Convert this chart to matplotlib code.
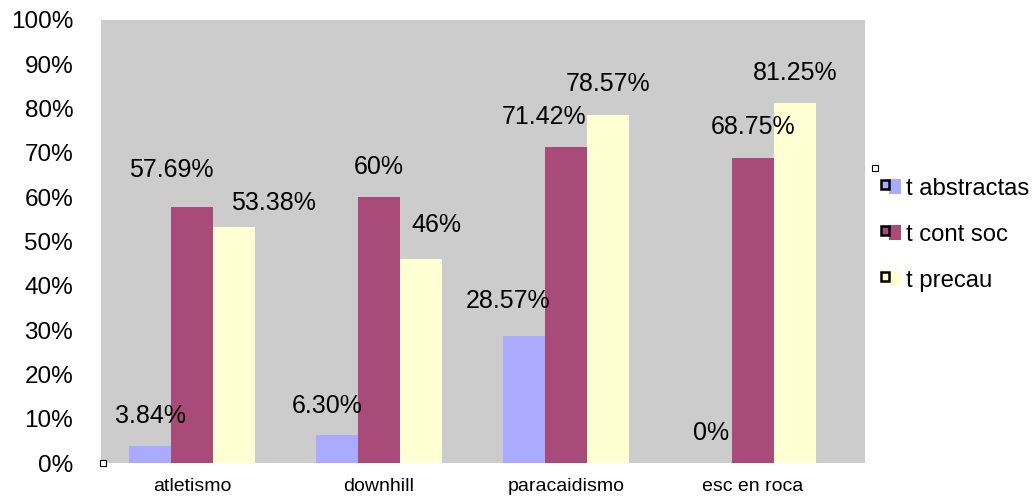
import numpy as np
import matplotlib
matplotlib.use('Agg')
import matplotlib.pyplot as plt
from matplotlib.patches import Patch, Rectangle
from matplotlib.legend_handler import HandlerBase

plt.rcParams['font.family'] = ['Liberation Sans', 'DejaVu Sans']

# data
categories = ['atletismo', 'downhill', 'paracaidismo', 'esc en roca']
series_names = ['t abstractas', 't cont soc', 't precau']
t_abstractas = [3.84, 6.30, 28.57, 0.0]
t_cont_soc = [57.69, 60.0, 71.42, 68.75]
t_precau = [53.38, 46.0, 78.57, 81.25]
labels_abstractas = ['3.84%', '6.30%', '28.57%', '0%']
labels_cont_soc = ['57.69%', '60%', '71.42%', '68.75%']
labels_precau = ['53.38%', '46%', '78.57%', '81.25%']
y_ticks = [0, 10, 20, 30, 40, 50, 60, 70, 80, 90, 100]

colors = ['#AAAAFF', '#A84B78', '#FFFFD4']
# nudges of the value labels from the bar top (pixels), as placed in the original
label_dx = [[0, -10, -16, 0],
            [-21, 0, -22, 0],
            [40, 16, 0, 0]]
label_dy = [[30, 29, 35, 30],
            [37, 30, 30, 31],
            [24, 34, 31, 30]]
px = 72 / 100  # pixels -> points


class SquareHandler(HandlerBase):
    # colored square with a small black outlined box at its upper left (Excel style)
    def create_artists(self, legend, orig_handle, xdescent, ydescent, width, height, fontsize, trans):
        c = orig_handle.get_facecolor()
        x0, y0 = -xdescent, -ydescent
        big = Rectangle((x0 + width * 0.45, y0), width * 0.55, height, facecolor=c,
                        edgecolor='none', transform=trans)
        small = Rectangle((x0 + width * 0.05, y0 + height * 0.3), width * 0.4, height * 0.65,
                          facecolor=c, edgecolor='black', lw=1.8, transform=trans)
        return [big, small]


fig = plt.figure(figsize=(10.35, 5.01), dpi=100)
ax = fig.add_axes([101 / 1035, 38 / 501, 764 / 1035, 443 / 501])
ax.set_facecolor('#CCCCCC')

x = np.arange(len(categories))
w = 0.223
all_vals = [t_abstractas, t_cont_soc, t_precau]
all_labels = [labels_abstractas, labels_cont_soc, labels_precau]
for i, (vals, labs) in enumerate(zip(all_vals, all_labels)):
    pos = x + (i - 1) * w
    ax.bar(pos, vals, width=w, color=colors[i], edgecolor='none', label=series_names[i])
    for j, (p, v, t) in enumerate(zip(pos, vals, labs)):
        ax.annotate(t, (p, v), xytext=(label_dx[i][j] * px, label_dy[i][j] * px),
                    textcoords='offset points', ha='center', va='center', fontsize=18)

ax.set_xlim(-91 / 187, 3 + 112 / 187)
ax.set_ylim(0, 100)
ax.set_yticks(y_ticks)
ax.set_yticklabels([f'{t}%' for t in y_ticks], fontsize=17.5)
ax.set_xticks(x)
ax.set_xticklabels(categories, fontsize=14)
ax.tick_params(axis='y', length=0, pad=20)
ax.tick_params(axis='x', length=0, pad=11)
for s in ax.spines.values():
    s.set_visible(False)

# little hollow markers left by the original program
for (mx, my) in [(875, 168), (103, 463)]:
    fig.add_artist(Rectangle((mx / 1035 - 3 / 1035, 1 - my / 501 - 3 / 501), 6 / 1035, 6 / 501,
                             facecolor='white', edgecolor='black', lw=0.8,
                             transform=fig.transFigure))

handles = [Patch(facecolor=c, edgecolor='none') for c in colors]
fig.legend(handles, series_names, loc='upper left', bbox_to_anchor=(880 / 1035, 1 - 178 / 501),
           frameon=False, fontsize=17.2, handlelength=0.88, handleheight=0.55,
           handletextpad=0.22, labelspacing=1.0, borderpad=0, borderaxespad=0,
           handler_map={Patch: SquareHandler()})

fig.savefig('out.png', dpi=100)
